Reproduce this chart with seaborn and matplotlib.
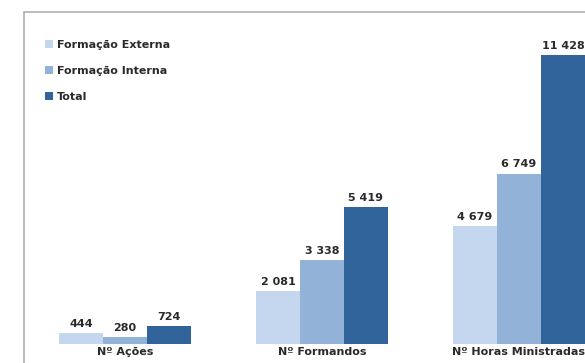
import matplotlib
matplotlib.use("Agg")
import matplotlib.pyplot as plt
from matplotlib.patches import Rectangle, Patch
import seaborn as sns
import pandas as pd

# Training indicators
categorias = ["Nº Ações", "Nº Formandos", "Nº Horas Ministradas"]
series = ["Formação Externa", "Formação Interna", "Total"]
formacao_externa = [444, 2081, 4679]
formacao_interna = [280, 3338, 6749]
total = [724, 5419, 11428]

cores = ["#C5D7EE", "#93B2D7", "#31649B"]
texto = "#2A2A2A"

df = pd.DataFrame({
    "categoria": categorias * 3,
    "serie": [s for s in series for _ in categorias],
    "valor": formacao_externa + formacao_interna + total,
})

sns.set_theme(style="white")
plt.rcParams["font.family"] = ["DejaVu Sans"]

W, H = 585, 363
fig = plt.figure(figsize=(W / 100, H / 100), dpi=100)
fig.patch.set_facecolor("white")

# plot area in pixel terms: baseline at 344 px from top, category pitch 197 px
left_px, base_px = 26.5, 344
ax = fig.add_axes([left_px / W, (H - base_px) / H, 591 / W, 303 / H])

sns.barplot(data=df, x="categoria", y="valor", hue="serie", order=categorias,
            hue_order=series, palette=cores, width=0.67, gap=0,
            saturation=1, linewidth=0, ax=ax, legend=False, errorbar=None)

ax.set_ylim(0, 12000)
ax.set_xlim(-0.5, 2.5)
for s in ax.spines.values():
    s.set_visible(False)
ax.set_yticks([])
ax.set_xlabel("")
ax.set_ylabel("")
ax.tick_params(axis="x", length=0, pad=2)
for lab in ax.get_xticklabels():
    lab.set_fontweight("bold")
    lab.set_fontsize(8)
    lab.set_color(texto)

def fmt(v):
    return f"{v:,}".replace(",", " ")

for cont in ax.containers:
    for bar in cont:
        v = bar.get_height()
        ax.annotate(fmt(int(round(v))), (bar.get_x() + bar.get_width() / 2, v),
                    xytext=(0, 3), textcoords="offset points",
                    ha="center", va="bottom", fontsize=8, fontweight="bold",
                    color=texto)

handles = [Patch(facecolor=c, edgecolor="none") for c in cores]
fig.legend(handles, series, loc="upper left",
           bbox_to_anchor=(35 / W, 1 - 30 / H), frameon=False,
           handlelength=0.7, handleheight=0.7, handletextpad=0.4,
           labelspacing=1.42, prop={"weight": "bold", "size": 8},
           labelcolor=texto)

# outer chart border (runs off the right and bottom edges)
fig.add_artist(Rectangle((24.5 / W, -0.2), 1.0, (H - 11.5) / H + 0.2,
                         transform=fig.transFigure, fill=False,
                         edgecolor="#A8A8A8", linewidth=1.1))

fig.savefig("out.png", dpi=100, facecolor="white")
